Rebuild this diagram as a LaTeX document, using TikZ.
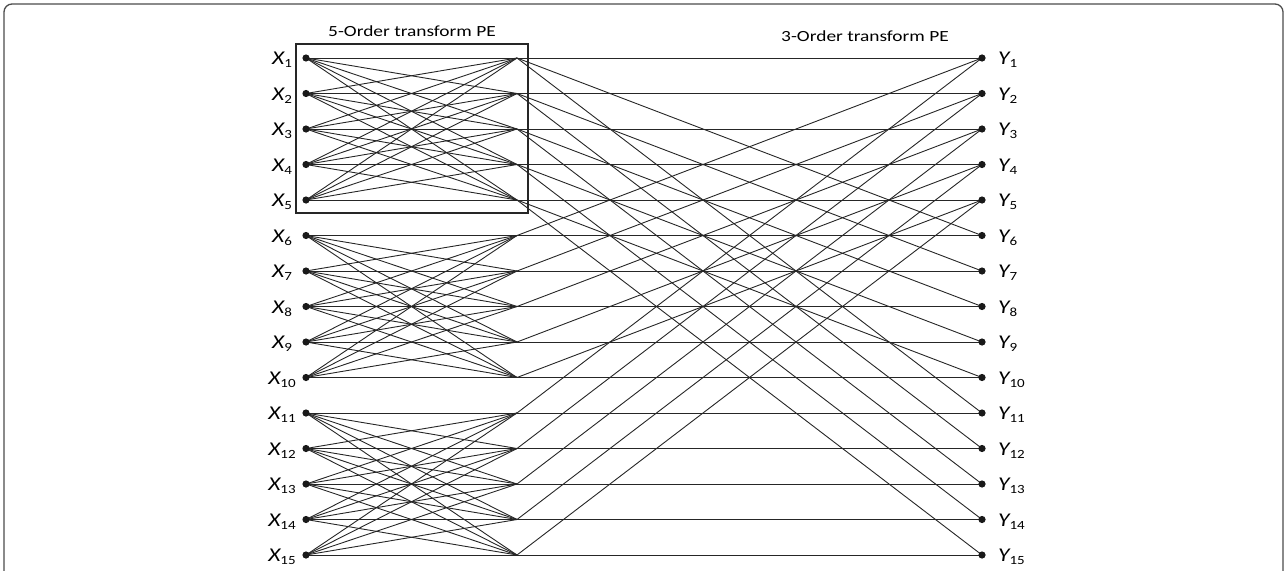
\documentclass[tikz,border=0pt]{standalone}
\usepackage{fontspec}
\setmainfont{Carlito}
\pgfdeclarelayer{bg}
\pgfsetlayers{bg,main}
\newcommand\lab[2]{\scalebox{1.2}[1]{\fontsize{19.5}{19.5}\selectfont\itshape #1\raisebox{-3pt}{\fontsize{12.5}{12.5}\selectfont\upshape #2}}}
\newcommand\ttl[1]{\scalebox{1.25}[1]{\fontsize{15.5}{15.5}\selectfont #1}}
\begin{document}
\begin{tikzpicture}[x=1pt,y=-1pt,
  dot/.style={circle, fill=black!90, inner sep=0pt, minimum size=7.2pt},
  wire/.style={draw=black!85, line width=0.9pt},
  lbl/.style={inner sep=0pt},
  pebox/.style={draw=black!85, line width=1.1pt, minimum width=232pt, minimum height=169pt, inner sep=0pt}]
\useasboundingbox (0,0) rectangle (1287,570);
\clip (0,0) rectangle (1287,570);
\draw[rounded corners=8pt, line width=1.3pt, black!70] (4,4) rectangle (1283,620);
\foreach \i in {1,...,15} {
  \pgfmathsetmacro\yy{58+(\i-1)*35.5}
  \node[dot] (x\i) at (306,\yy) {};
  \node[dot] (y\i) at (982,\yy) {};
  \coordinate (m\i) at (517,\yy);
  \node[lbl] (lx\i) at (282,\yy+2) {\lab{X}{\i}};
  \node[lbl, anchor=west] (ly\i) at (998,\yy+2) {\lab{Y}{\i}};
}
\node[pebox] (box) at (412,128.5) {};
\node[lbl] (t5) at (412,31) {\ttl{5-Order transform PE}};
\node[lbl] (t3) at (865,36) {\ttl{3-Order transform PE}};
\begin{pgfonlayer}{bg}
\foreach \g in {0,5,10} {
  \foreach \a in {1,...,5} {
    \foreach \b in {1,...,5} {
      \pgfmathtruncatemacro\ia{\g+\a}
      \pgfmathtruncatemacro\ib{\g+\b}
      \draw[wire] (x\ia.center) -- (m\ib);
    }
  }
}
\foreach \k in {1,...,15} {
  \draw[wire] (m\k) -- (y\k.center);
}
\foreach \k in {1,...,5} {
  \pgfmathtruncatemacro\ka{\k+5}
  \pgfmathtruncatemacro\kb{\k+10}
  \draw[wire] (m\k) -- (y\ka.center);
  \draw[wire] (m\k) -- (y\kb.center);
  \draw[wire] (m\ka) -- (y\k.center);
  \draw[wire] (m\kb) -- (y\k.center);
}
\end{pgfonlayer}
\end{tikzpicture}
\end{document}
